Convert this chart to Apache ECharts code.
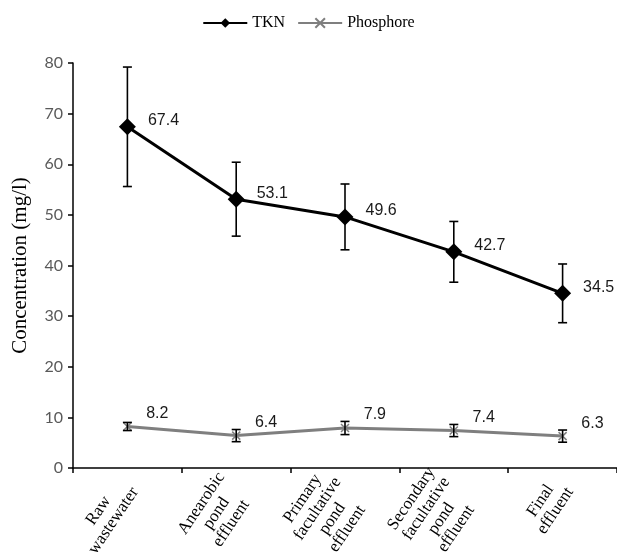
<!DOCTYPE html>
<html>
<head>
<meta charset="utf-8">
<script src="https://cdn.jsdelivr.net/npm/echarts@6/dist/echarts.min.js"></script>
<style>html,body{margin:0;padding:0;background:#fff}#c{width:617px;height:560px}</style>
</head>
<body>
<div id="c"></div>
<script>
const categories = ['Raw\nwastewater', 'Anearobic\npond\neffluent', 'Primary\nfacultative\npond\neffluent', 'Secondary\nfacultative\npond\neffluent', 'Final\neffluent'];
const tknValues = [67.4, 53.1, 49.6, 42.7, 34.5];
const tknErrors = [11.8, 7.3, 6.5, 6.0, 5.8];
const phosValues = [8.2, 6.4, 7.9, 7.4, 6.3];
const phosErrors = [0.8, 1.2, 1.3, 1.2, 1.2];
const yMin = 0, yMax = 80, yStep = 10;

function errData(vals, errs) {
  return vals.map((v, i) => [i, v - errs[i], v + errs[i]]);
}
function renderErr(params, api) {
  const x = api.value(0);
  const lo = api.coord([x, api.value(1)]);
  const hi = api.coord([x, api.value(2)]);
  const cap = 4.5;
  const st = { stroke: '#000', lineWidth: 1.6 };
  return {
    type: 'group',
    children: [
      { type: 'line', shape: { x1: lo[0], y1: lo[1], x2: hi[0], y2: hi[1] }, style: st },
      { type: 'line', shape: { x1: hi[0] - cap, y1: hi[1], x2: hi[0] + cap, y2: hi[1] }, style: st },
      { type: 'line', shape: { x1: lo[0] - cap, y1: lo[1], x2: lo[0] + cap, y2: lo[1] }, style: st }
    ]
  };
}

const chart = echarts.init(document.getElementById('c'), null, { renderer: 'canvas' });
chart.setOption({
  animation: false,
  backgroundColor: '#fff',
  legend: {
    top: 10,
    left: 'center',
    itemWidth: 44,
    itemHeight: 12,
    itemGap: 12,
    data: ['TKN', 'Phosphore'],
    textStyle: { fontFamily: 'Liberation Serif', fontSize: 16, color: '#000' }
  },
  grid: { left: 73, right: 0, top: 63, bottom: 92, containLabel: false, outerBoundsMode: 'none' },
  xAxis: {
    type: 'category',
    data: categories,
    boundaryGap: true,
    axisLine: { lineStyle: { color: '#000', width: 1.5 } },
    axisTick: { show: true, length: 5, lineStyle: { color: '#000', width: 1.5 } },
    axisLabel: {
      rotate: 56,
      margin: 16,
      interval: 0,
      fontFamily: 'Liberation Serif',
      fontSize: 17,
      lineHeight: 18,
      color: '#000',
      formatter: function (v) { return v.split('\n').map(s => '{c|' + s + '}').join('\n'); },
      rich: { c: { align: 'center', fontFamily: 'Liberation Serif', fontSize: 17, lineHeight: 18, color: '#000' } }
    }
  },
  yAxis: {
    type: 'value',
    min: yMin, max: yMax, interval: yStep,
    name: 'Concentration (mg/l)',
    nameLocation: 'middle',
    nameGap: 42,
    nameTextStyle: { fontFamily: 'Liberation Serif', fontSize: 21, color: '#000' },
    axisLine: { show: true, lineStyle: { color: '#000', width: 1.5 } },
    axisTick: { show: true, length: 5, lineStyle: { color: '#000', width: 1.5 } },
    axisLabel: { fontFamily: 'Lato', fontSize: 16, color: '#595959', margin: 10 },
    splitLine: { show: false }
  },
  series: [
    {
      name: 'TKN',
      type: 'line',
      data: tknValues,
      symbol: 'diamond',
      symbolSize: 17,
      itemStyle: { color: '#000' },
      lineStyle: { color: '#000', width: 3 },
      label: {
        show: true, position: 'right', distance: 12, offset: [0, -6],
        fontFamily: 'Liberation Sans', fontSize: 16, color: '#1a1a1a'
      },
      z: 3
    },
    {
      name: 'Phosphore',
      type: 'line',
      data: phosValues,
      symbol: 'path://M0,0 L10,10 M10,0 L0,10',
      symbolSize: 8,
      itemStyle: { color: '#7f7f7f', borderColor: '#7f7f7f', borderWidth: 1.5 },
      lineStyle: { color: '#7f7f7f', width: 3 },
      label: {
        show: true, position: 'right', distance: 14, offset: [0, -13],
        fontFamily: 'Liberation Sans', fontSize: 16, color: '#1a1a1a'
      },
      z: 3
    },
    {
      type: 'custom',
      name: 'tknErr',
      renderItem: renderErr,
      data: errData(tknValues, tknErrors),
      encode: { x: 0, y: [1, 2] },
      z: 4,
      silent: true
    },
    {
      type: 'custom',
      name: 'phosErr',
      renderItem: renderErr,
      data: errData(phosValues, phosErrors),
      encode: { x: 0, y: [1, 2] },
      z: 4,
      silent: true
    }
  ]
});
</script>
</body>
</html>
